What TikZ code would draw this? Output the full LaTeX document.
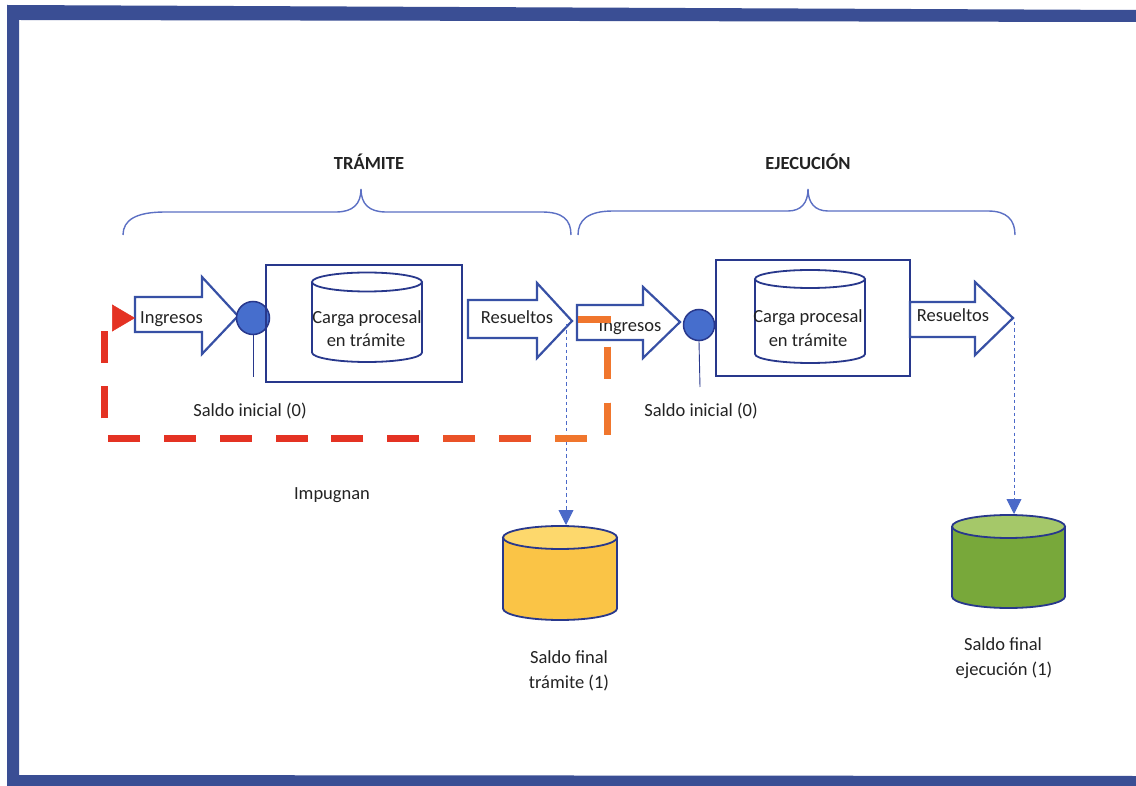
\documentclass[tikz,border=0pt]{standalone}
\usepackage{fontspec}
\setmainfont{Carlito}
\usetikzlibrary{arrows.meta}
\definecolor{frameblue}{RGB}{58,78,148}
\definecolor{navy}{RGB}{40,56,140}
\definecolor{arrblue}{RGB}{55,80,165}
\definecolor{braceblue}{RGB}{92,112,196}
\definecolor{dotblue}{RGB}{75,105,200}
\definecolor{ballblue}{RGB}{70,110,205}
\definecolor{fbred}{RGB}{228,50,35}
\definecolor{fbmid}{RGB}{234,82,40}
\definecolor{fborange}{RGB}{240,118,45}
\definecolor{ybody}{RGB}{250,196,70}
\definecolor{ytop}{RGB}{253,216,108}
\definecolor{gbody}{RGB}{120,168,58}
\definecolor{gtop}{RGB}{165,200,105}
\definecolor{txt}{RGB}{35,35,35}
\tikzset{
  lbl/.style={font=\fontsize{18.5}{22}\selectfont, text=txt, inner sep=0pt, anchor=base},
  phasehead/.style={lbl, font=\fontsize{18.5}{22}\selectfont\bfseries},
  blockarrow/.style={draw=arrblue, line width=2.2pt, fill=white, line join=miter},
  procbox/.style={draw=navy, line width=2.2pt, inner sep=0pt},
  cylline/.style={draw=navy, line width=1.8pt},
  bracepath/.style={draw=braceblue, line width=1.4pt},
  ball/.style={draw=navy, line width=1.5pt, fill=ballblue, inner sep=0pt},
  stemline/.style={draw=navy, line width=0.9pt},
  dotconn/.style={draw=dotblue, line width=0.9pt, dash pattern=on 3.5pt off 3pt,
    -{Triangle[length=15pt,width=15pt]}},
  fb/.style={line width=7pt, dash pattern=on 32pt off 23.8pt},
}
% #1 name, #2 cx, #3 y of top ellipse, #4 y of bottom ellipse, #5 rx, #6 ry, #7 body, #8 top
\newcommand\drawcyl[8]{%
  \fill[#7] ({#2-#5},#3) -- ({#2-#5},#4) arc[start angle=180,end angle=360,x radius=#5pt,y radius=#6pt] -- ({#2+#5},#3) -- cycle;
  \draw[cylline] ({#2-#5},#3) -- ({#2-#5},#4) arc[start angle=180,end angle=360,x radius=#5pt,y radius=#6pt] -- ({#2+#5},#3);
  \draw[cylline, fill=#8] (#2,#3) ellipse[x radius=#5pt, y radius=#6pt];
  \coordinate (#1-top) at (#2,{#3-#6});}
\begin{document}
\begin{tikzpicture}[x=1pt,y=-1pt]
\useasboundingbox (0,0) rectangle (1136,786);
\fill[white] (0,0) rectangle (1136,786);
% frame
\fill[frameblue] (7,5) -- (1136,10) -- (1136,22) -- (19,20) -- (19,775) -- (1136,776) -- (1136,786) -- (7,786) -- cycle;

% headings and braces
\node[phasehead] (tram) at (369,170) {TRÁMITE};
\node[phasehead] (ejec) at (808,170) {EJECUCIÓN};
\draw[bracepath] (123,235) .. controls (123,220) and (136,212) .. (165,212) -- (336,212)
  .. controls (353,212) and (361,204) .. (361,189) .. controls (361,204) and (369,212) .. (386,212)
  -- (542,212) .. controls (563,212) and (571,220) .. (571,235);
\draw[bracepath] (578,235) .. controls (578,220) and (588,211) .. (613,211) -- (788,211)
  .. controls (801,211) and (808,203) .. (808,189) .. controls (808,203) and (815,211) .. (828,211)
  -- (988,211) .. controls (1007,211) and (1015,220) .. (1015,235);

% --- TRAMITE stage ---
\draw[blockarrow] (135,297) -- (202,297) -- (202,277) -- (238,316) -- (202,354) -- (202,332) -- (135,332) -- cycle;
\coordinate (in1tail) at (135,318);
\node[lbl] (in1) at (171.5,324) {Ingresos};
\node[ball, circle, minimum size=33pt] (ball1) at (253,318) {};
\coordinate (stem1) at (253,377);
\draw[stemline] (ball1.south) -- (stem1);
\node[procbox, draw, minimum width=196pt, minimum height=117pt] (box1) at (364,323.5) {};
\drawcyl{cyl1}{367}{282}{352.5}{55}{9.5}{white}{white}
\node[lbl] (cp1a) at (367,324) {Carga procesal};
\node[lbl] (cp1b) at (366,347) {en trámite};
\draw[blockarrow] (468,300) -- (537,300) -- (537,283) -- (572,321) -- (537,358) -- (537,338) -- (468,338) -- cycle;
\node[lbl] (res1) at (517,324) {Resueltos};
\node[lbl] (si1) at (250,417) {Saldo inicial (0)};
\node[lbl] (imp) at (332,499) {Impugnan};

% --- EJECUCION stage ---
\draw[blockarrow] (577,305) -- (643,305) -- (643,287) -- (680,322) -- (643,358) -- (643,340) -- (577,340) -- cycle;
\node[lbl] (in2) at (630,332) {Ingresos};
\node[ball, circle, minimum size=31pt] (ball2) at (699,325) {};
\coordinate (stem2) at (700,387);
\draw[stemline] (ball2.south) -- (stem2);
\node[procbox, draw, minimum width=194pt, minimum height=116pt] (box2) at (813,318) {};
\drawcyl{cyl2}{810}{279}{354}{55}{9}{white}{white}
\node[lbl] (cp2a) at (808,323) {Carga procesal};
\node[lbl] (cp2b) at (808,347) {en trámite};
\draw[blockarrow] (910,302) -- (975,302) -- (975,282) -- (1013,318) -- (975,355) -- (975,337) -- (910,337) -- cycle;
\node[lbl] (res2) at (953,322) {Resueltos};
\node[lbl] (si2) at (701,417) {Saldo inicial (0)};

% final balances
\drawcyl{cylY}{560}{537.5}{608.5}{57}{11.5}{ybody}{ytop}
\node[lbl] (sf1a) at (569,663) {Saldo final};
\node[lbl] (sf1b) at (569,688) {trámite (1)};
\drawcyl{cylG}{1008.5}{526.5}{596.5}{56.5}{11.5}{gbody}{gtop}
\node[lbl] (sf2a) at (1003,650) {Saldo final};
\node[lbl] (sf2b) at (1004,675) {ejecución (1)};

% dotted connectors
\coordinate (res1out) at (566,324);
\coordinate (cylYin) at (566,525);
\draw[dotconn] (res1out) -- (cylYin);
\coordinate (res2out) at (1014,322);
\coordinate (cylGin) at (1014,514);
\draw[dotconn] (res2out) -- (cylGin);

% feedback (Impugnan) dashed connector
\coordinate (fbS) at (578,320);
\coordinate (fbA) at (607,320);
\coordinate (fbB) at (607,438);
\coordinate (fbC) at (104,438);
\coordinate (fbD) at (104,318);
\coordinate (fbE) at (430,438);
\coordinate (fbF) at (545,438);
\draw[fb, draw=fbred, -{Triangle[length=23pt,width=27pt,line width=0.5pt]}] (fbS) -- (fbA) -- (fbB) -- (fbC) -- (fbD) -- (in1tail);
\draw[fb, draw=fbmid] (fbS) -- (fbA) -- (fbB) -- (fbE);
\draw[fb, draw=fborange] (fbS) -- (fbA) -- (fbB) -- (fbF);
\end{tikzpicture}
\end{document}
